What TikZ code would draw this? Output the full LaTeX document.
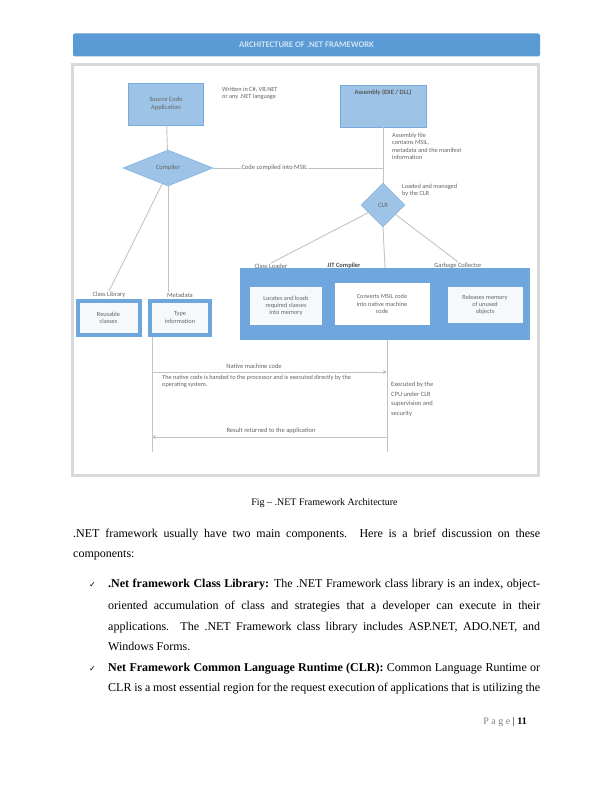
\documentclass[tikz,border=0pt]{standalone}
\usepackage{fontspec}
\setmainfont{Liberation Serif}
\newfontfamily\diagfont{Carlito}
\newfontfamily\symfont{DejaVu Sans}
\usepackage{xcolor}
\definecolor{barblue}{RGB}{91,155,213}
\definecolor{boxblue}{RGB}{157,195,230}
\definecolor{edgeblue}{RGB}{120,170,220}
\definecolor{contblue}{RGB}{112,166,222}
\definecolor{framegray}{RGB}{217,217,217}
\definecolor{linegray}{RGB}{195,195,195}
\definecolor{notegray}{RGB}{100,100,100}
\usetikzlibrary{
  arrows.meta,
  positioning,
  shapes.geometric
}

\begin{document}
\begin{tikzpicture}[
    x=1pt, y=-1pt,
    procbox/.style={
      rectangle, draw=edgeblue, fill=boxblue, line width=0.8pt,
      align=center, font=\diagfont\fontsize{6.5}{7.5}\selectfont, text=notegray
    },
    decision/.style={
      diamond, draw=edgeblue, fill=boxblue, inner sep=0pt,
      font=\diagfont\fontsize{6.5}{7.5}\selectfont, text=notegray
    },
    stepbox/.style={
      rectangle, fill=#1, align=center, inner sep=1pt,
      font=\diagfont\fontsize{6.3}{7.3}\selectfont, text=notegray
    },
    stepbox/.default=white!90!boxblue,
    libbox/.style={
      rectangle, draw=contblue, line width=4pt, fill=white!90!boxblue,
      align=center, font=\diagfont\fontsize{6.3}{7.3}\selectfont, text=notegray
    },
    note/.style={align=left, inner sep=0pt,
      font=\diagfont\fontsize{6.3}{7.4}\selectfont, text=notegray},
    tag/.style={inner sep=1pt, font=\diagfont\fontsize{6.5}{7.5}\selectfont, text=notegray},
    link/.style={draw=linegray, line width=0.9pt},
    arr/.style={link, -{Stealth[length=4pt,width=4pt]}},
    bodyline/.style={anchor=base west, inner sep=0pt, font=\fontsize{12}{14}\selectfont},
  ]
  %% --- page ---
  \fill[white] (0,0) rectangle (612,792);
  \useasboundingbox (0,0) rectangle (612,792);

  %% --- title bar and frame ---
  \node[fill=barblue, rounded corners=2pt, minimum width=467pt, minimum height=23pt,
        text=white!72!barblue, font=\diagfont\bfseries\fontsize{8.6}{10}\selectfont]
        (title) at (306.5,45) {ARCHITECTURE OF .NET FRAMEWORK};
  \node[draw=framegray, line width=3pt, minimum width=466pt, minimum height=410pt]
        (frame) at (305.5,270) {};

  %% --- source side ---
  \node[procbox, minimum width=75pt, minimum height=42pt] (src) at (166,104)
    {Source Code\\Application};
  \node[note, anchor=north west] (srcnote) at (222,87)
    {Written in C\#, VB.NET\\or any .NET language};
  \node[decision, minimum width=90pt, minimum height=36pt] (comp) at (168,168) {Compiler};

  %% --- assembly and runtime ---
  \node[procbox, minimum width=86pt, minimum height=42pt] (asm) at (383,106) {};
  \node[below=5pt of asm.north, inner sep=0pt, text=black!65,
        font=\diagfont\bfseries\fontsize{6.5}{7.5}\selectfont] (asmname) {Assembly (EXE / DLL)};
  \node[note, anchor=north west] (asmnote) at (392,133)
    {Assembly file\\contains MSIL,\\metadata and the manifest\\information};
  \node[decision, minimum width=44pt, minimum height=44pt] (clr) at (383,205) {CLR};
  \node[note, anchor=north west] (clrnote) at (402,184)
    {Loaded and managed\\by the CLR};

  \draw[link] (src) -- (comp);
  \draw[link] (comp.east) -| node[pos=0.18, fill=white, tag] (lblmsil) {Code compiled into MSIL} (clr.north);
  \draw[link] (asm) -- (clr);

  %% --- execution engine ---
  \node[rectangle, fill=contblue, minimum width=290pt, minimum height=72pt] (runtime) at (385,304) {};
  \node[stepbox, minimum width=72pt, minimum height=38pt] (loader) at (286,306)
    {Locates and loads\\required classes\\into memory};
  \node[stepbox=white, minimum width=95pt, minimum height=42pt] (jit) at (382,304)
    {Converts MSIL code\\into native machine\\code};
  \node[stepbox, minimum width=75pt, minimum height=36pt] (gc) at (485,305)
    {Releases memory\\of unused\\objects};
  \node[tag, anchor=south] (lblload) at (271,270) {Class Loader};
  \node[tag, anchor=south, text=black!70, font=\diagfont\bfseries\fontsize{6.5}{7.5}\selectfont] (lbljit) at (344,270) {JIT Compiler};
  \node[tag, anchor=south] (lblgc) at (458,270) {Garbage Collector};

  \draw[link] (clr) -- (lblload.north);
  \draw[link] (clr.south) -- (runtime.north);
  \draw[link] (clr) -- (lblgc.north);

  %% --- libraries ---
  \node[libbox, minimum width=62pt, minimum height=34pt] (libcls) at (108.5,317.5) {Reusable\\classes};
  \node[libbox, minimum width=60pt, minimum height=34pt] (libmeta) at (180,317.5) {Type\\information};
  \node[tag, anchor=south] (lblcls) at (109,299) {Class Library};
  \node[tag, anchor=south] (lblmeta) at (180,299) {Metadata};

  \draw[link] (comp.250) -- (lblcls.north);
  \draw[link] (comp.south) -- (comp.south |- lblmeta.north);

  %% --- execution flow ---
  \coordinate (leftend)  at (152,452);
  \coordinate (rightend) at (387,452);
  \coordinate (nativeL)  at (152,372);
  \coordinate (nativeR)  at (387,372);
  \coordinate (retL)     at (152,437);
  \coordinate (retR)     at (387,437);

  \draw[link] (libmeta.south -| leftend) -- (leftend);
  \draw[link] (runtime.south -| rightend) -- (rightend);
  \draw[arr] (nativeL) -- (nativeR);
  \draw[arr] (retR) -- (retL);

  \node[tag] (lblnative) at (254,366) {Native machine code};
  \node[note, anchor=north west] (nativedesc) at (162,375)
    {The native code is handed to the processor and is executed directly by the\\operating system.};
  \node[tag] (lblret) at (271,431) {Result returned to the application};
  \node[note, anchor=north west, font=\diagfont\fontsize{6.5}{9.5}\selectfont] (cpunote) at (391,382)
    {Executed by the\\CPU under CLR\\supervision and\\security};

  %% --- caption and page text ---
  \node[font=\fontsize{10}{12}\selectfont] (caption) at (324.5,503) {Fig -- .NET Framework Architecture};

  \node[bodyline] (para1) at (73,537) {\makebox[467pt][s]{.NET framework usually have two main components. Here is a brief discussion on these}};
  \node[bodyline] (para2) at (73,557) {components:};

  \node[bodyline, font=\symfont\fontsize{8}{10}\selectfont] (bul1) at (89,587) {✓};
  \node[bodyline] (b1l1) at (108,587) {\makebox[432pt][s]{\textbf{.Net framework Class Library:} The .NET Framework class library is an index, object-}};
  \node[bodyline] (b1l2) at (108,609) {\makebox[432pt][s]{oriented accumulation of class and strategies that a developer can execute in their}};
  \node[bodyline] (b1l3) at (108,630) {\makebox[432pt][s]{applications. The .NET Framework class library includes ASP.NET, ADO.NET, and}};
  \node[bodyline] (b1l4) at (108,650) {Windows Forms.};

  \node[bodyline, font=\symfont\fontsize{8}{10}\selectfont] (bul2) at (89,671) {✓};
  \node[bodyline] (b2l1) at (108,671) {\makebox[432pt][s]{\textbf{Net Framework Common Language Runtime (CLR):} Common Language Runtime or}};
  \node[bodyline] (b2l2) at (108,691) {\makebox[432pt][s]{CLR is a most essential region for the request execution of applications that is utilizing the}};

  \node[anchor=base east, inner sep=0pt, font=\fontsize{10}{12}\selectfont] (pageno) at (527,724)
    {{\color{gray}P a g e} \textbar{} \textbf{11}};
\end{tikzpicture}
\end{document}
